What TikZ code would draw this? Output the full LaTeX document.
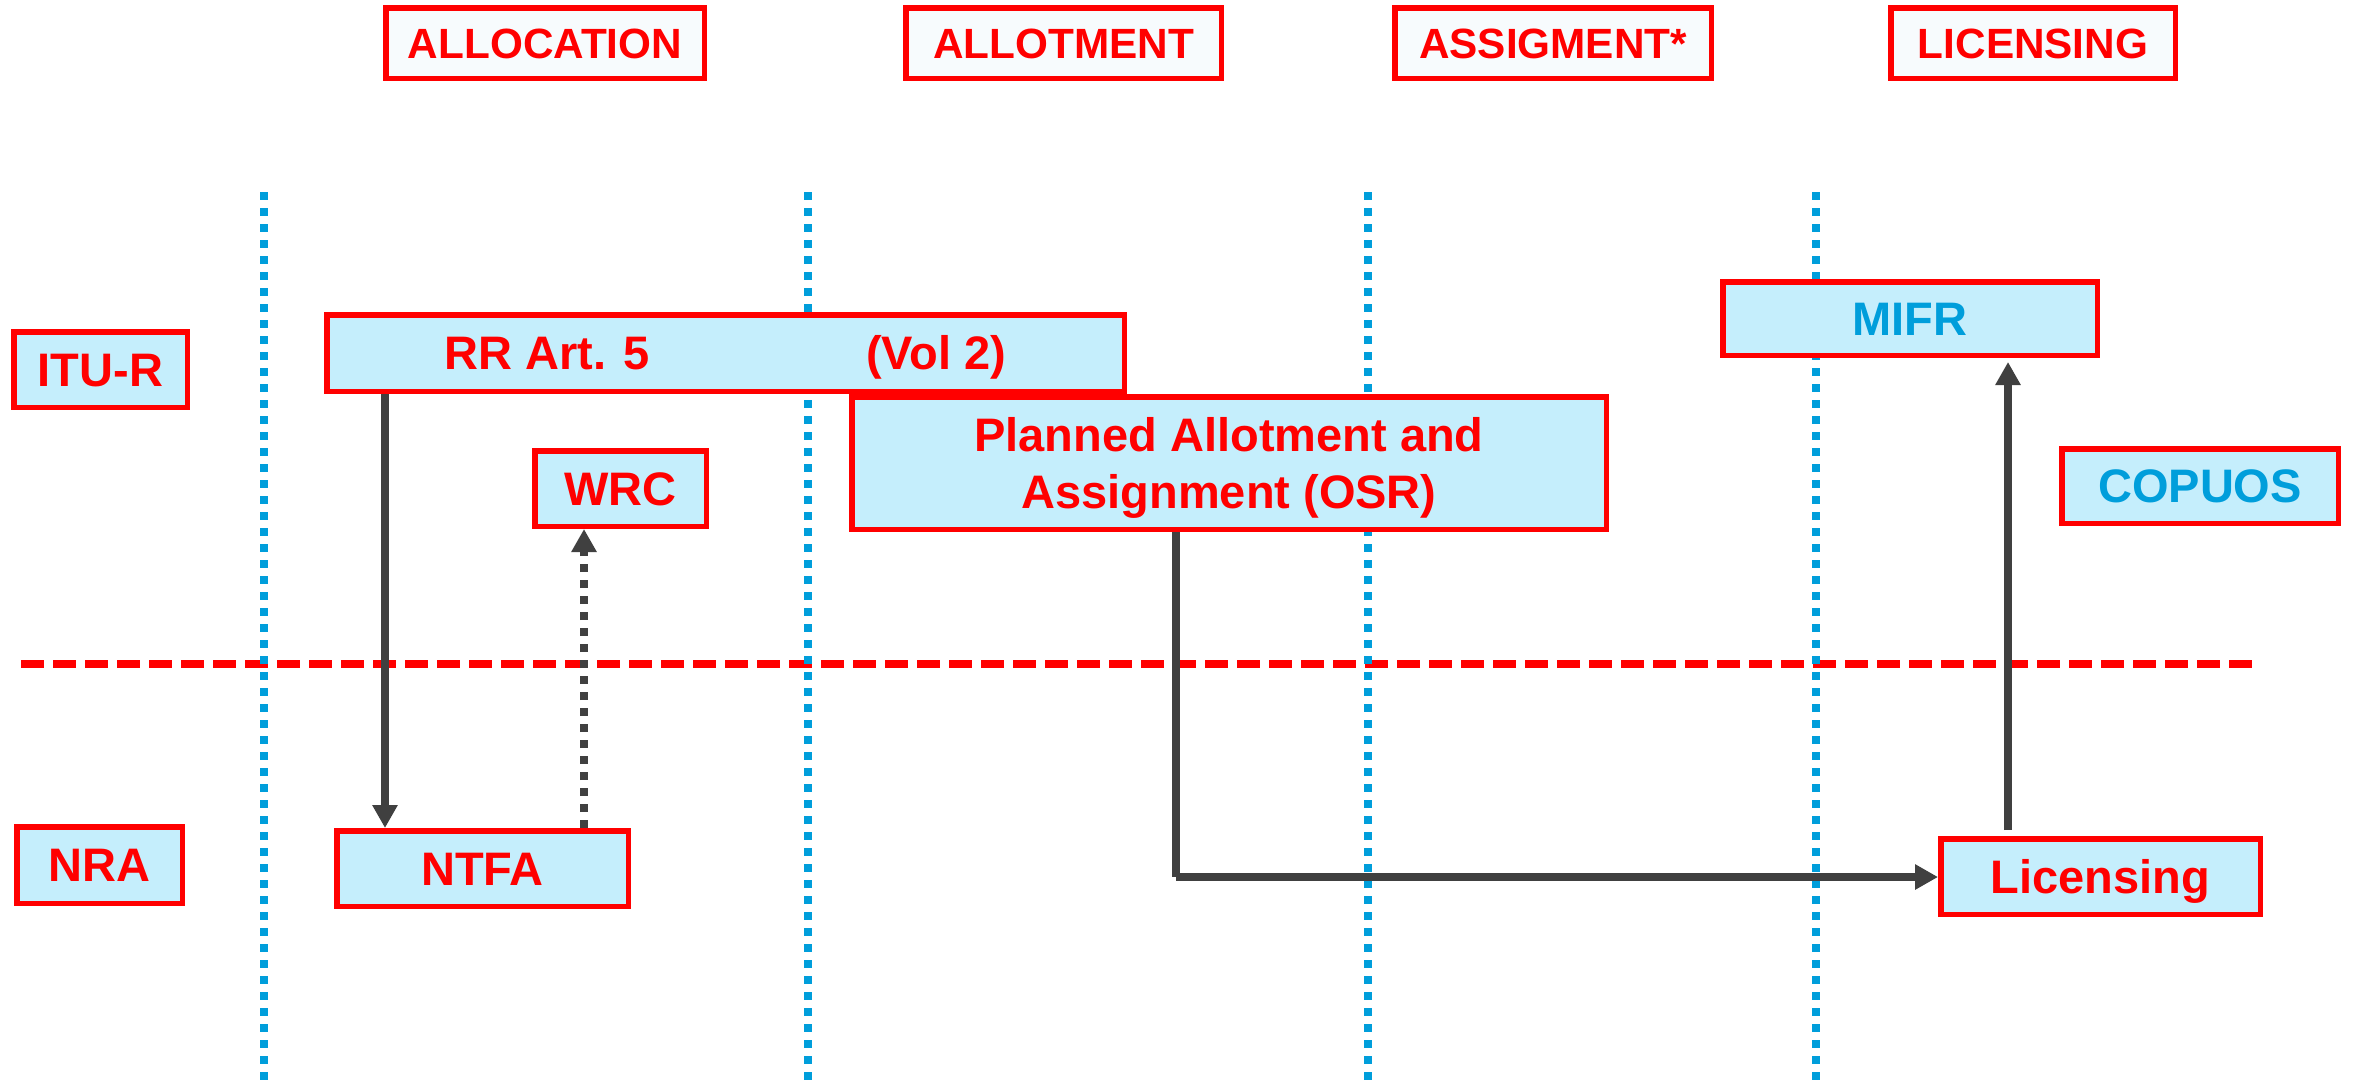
\documentclass[tikz,border=0pt]{standalone}
\usepackage{fontspec}
\setmainfont{Liberation Sans}
\usetikzlibrary{arrows.meta}
\definecolor{boxred}{RGB}{255,0,0}
\definecolor{boxfill}{RGB}{197,238,252}
\definecolor{hdrfill}{RGB}{247,251,253}
\definecolor{lineblue}{RGB}{0,158,219}
\definecolor{arrgray}{RGB}{64,64,64}
\begin{document}
\begin{tikzpicture}[x=0.5pt, y=-0.5pt,
  base/.style={draw=boxred, line width=2.75pt, inner sep=0pt, text=boxred},
  hdr/.style={base, fill=hdrfill, font=\fontsize{21.15pt}{25pt}\selectfont\bfseries, minimum height=35.25pt, text height=15.1pt, text depth=0pt},
  box/.style={base, fill=boxfill, font=\fontsize{23.5pt}{28.6pt}\selectfont\bfseries},
  one/.style={text height=16.8pt, text depth=0pt},
  conn/.style={draw=arrgray, line width=3.75pt},
  tip/.style={-{Triangle[length=11.5pt,width=12pt]}},
  bluesep/.style={draw=lineblue, line width=4pt, dash pattern=on 4pt off 4pt},
  redsep/.style={draw=boxred, line width=4pt, dash pattern=on 11.5pt off 4.5pt}
]
\fill[white] (0,0) rectangle (2359,1082);
\useasboundingbox (0,0) rectangle (2359,1082);

% separators
\draw[redsep] (21,664) -- (2252,664);
\foreach \x in {264,808,1368,1816} \draw[bluesep] (\x,192) -- (\x,1082);

% headers
\node[hdr, minimum width=159.25pt] (hAlloc) at (545,43) {ALLOCATION};
\node[hdr, minimum width=157.75pt] (hAllot) at (1063.5,43) {ALLOTMENT};
\node[hdr, minimum width=158.25pt] (hAssig) at (1553,43) {ASSIGMENT*};
\node[hdr, minimum width=142.25pt] (hLic) at (2033,43) {LICENSING};

% boxes
\node[box, one, minimum width=86.75pt, minimum height=37.75pt] (itur) at (100.5,369.5) {ITU-R};
\node[box, one, minimum width=398.75pt, minimum height=38.25pt] (rr) at (725.5,353) {RR Art. 5\hspace{108pt}(Vol 2)};
\node[box, one, minimum width=85.75pt, minimum height=37.75pt] (wrc) at (620.5,488.5) {WRC};
\node[box, align=center, minimum width=377.25pt, minimum height=66.25pt] (plan) at (1229,463) {Planned Allotment and\\\smash{Assignment (OSR)}};
\node[box, one, text=lineblue, minimum width=187.25pt, minimum height=36.75pt] (mifr) at (1910,318.5) {MIFR};
\node[box, one, text=lineblue, minimum width=138.25pt, minimum height=37.25pt] (copuos) at (2200,486) {COPUOS};
\node[box, one, minimum width=82.75pt, minimum height=38.25pt] (nra) at (99.5,865) {NRA};
\node[box, one, minimum width=145.75pt, minimum height=37.75pt] (ntfa) at (482.5,868.5) {NTFA};
\node[box, one, minimum width=159.75pt, minimum height=37.75pt] (lic) at (2100.5,876.5) {Licensing};

% connectors
\coordinate (xa) at (385,0);
\coordinate (xb) at (584,0);
\coordinate (bend) at (1176,877);
\coordinate (xc) at (2008,0);
\draw[conn, tip] (rr.south -| xa) -- (ntfa.north -| xa);
\draw[conn, tip, dash pattern=on 4pt off 4pt] (ntfa.north -| xb) -- (wrc.south -| xb);
\draw[conn] (plan.south -| bend) -- (bend);
\draw[conn, line width=4.25pt, tip] (bend) -- (bend -| lic.west);
\draw[conn, tip, shorten <=3pt, shorten >=2pt] (lic.north -| xc) -- (mifr.south -| xc);
\end{tikzpicture}
\end{document}
